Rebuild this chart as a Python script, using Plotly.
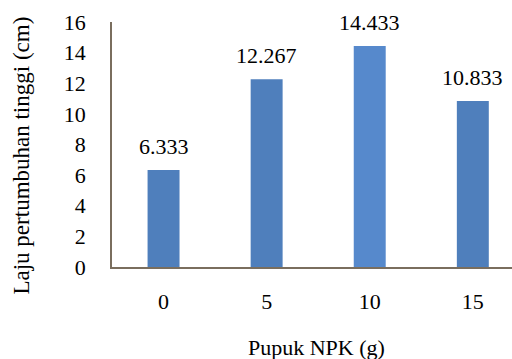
import plotly.graph_objects as go

categories = ["0", "5", "10", "15"]
values = [6.333, 12.267, 14.433, 10.833]
labels = ["6.333", "12.267", "14.433", "10.833"]
bar_colors = ["#4F7FBC", "#4F7FBC", "#5689CC", "#4F7FBC"]
y_ticks = [0, 2, 4, 6, 8, 10, 12, 14, 16]
x_title = "Pupuk NPK (g)"
y_title = "Laju pertumbuhan tinggi (cm)"

font_family = "Liberation Serif"

fig = go.Figure()
fig.add_trace(go.Bar(
    x=list(range(len(categories))), y=values,
    marker=dict(color=bar_colors, line=dict(width=0)),
    width=0.31, hoverinfo="skip",
))
for i, (v, t) in enumerate(zip(values, labels)):
    fig.add_annotation(x=i, y=v, text=t, showarrow=False, yanchor="bottom",
                       yshift=9, font=dict(size=22, color="#000000", family=font_family))

fig.add_annotation(xref="paper", yref="paper", x=0.51, y=-0.33, text=x_title,
                   showarrow=False, yanchor="middle", xanchor="center",
                   font=dict(size=22, color="#000000", family=font_family))
fig.add_annotation(xref="paper", yref="paper", x=-0.225, y=0.455, text=y_title,
                   showarrow=False, textangle=-90, xanchor="center", yanchor="middle",
                   font=dict(size=23, color="#000000", family=font_family))

axis_color = "#7A6E5E"
fig.update_layout(
    width=512, height=359,
    margin=dict(l=112, r=0, t=22, b=92),
    paper_bgcolor="white", plot_bgcolor="white",
    showlegend=False,
    font=dict(family=font_family, size=22, color="#000000"),
    xaxis=dict(range=[-0.5, 3.38], tickmode="array", tickvals=list(range(len(categories))),
               ticktext=categories, showline=True, linecolor=axis_color, linewidth=1.5,
               showgrid=False, zeroline=False, ticks="", ticklabelstandoff=14,
               tickfont=dict(size=22, family=font_family, color="#000000")),
    yaxis=dict(range=[0, 16], tickvals=y_ticks, showline=True, linecolor=axis_color,
               linewidth=1.5, showgrid=False, zeroline=False, ticks="",
               ticklabelstandoff=20,
               tickfont=dict(size=22, family=font_family, color="#000000")),
)

fig.write_html("out.html", config={"displayModeBar": False},
               post_script="document.body.style.margin='0';")
